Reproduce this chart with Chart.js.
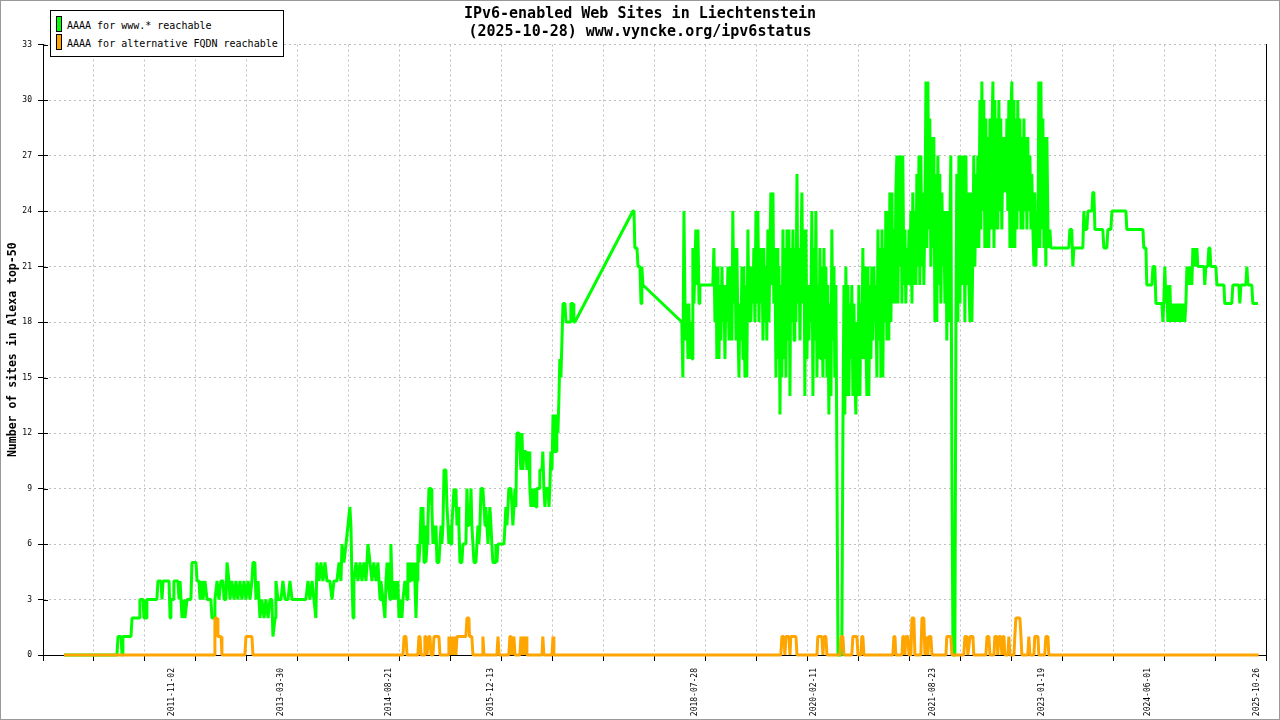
<!DOCTYPE html>
<html>
<head>
<meta charset="utf-8">
<title>IPv6-enabled Web Sites in Liechtenstein</title>
<script src="https://cdn.jsdelivr.net/npm/chart.js"></script>
<style>
    body { margin: 0; background: #fff; }
    #wrap { position: relative; width: 1280px; height: 720px; }
    #frame { position: absolute; left: 0; top: 0; width: 1280px; height: 720px; box-sizing: border-box; border: 1px solid #999; pointer-events: none; }
    #legend { position: absolute; left: 50px; top: 10px; width: 234px; height: 47px; box-sizing: border-box; border: 1px solid #000; background: #fff; font: 10px "DejaVu Sans Mono", monospace; color: #000; }
    .swatch { position: absolute; left: 5px; width: 4px; height: 14px; border: 1px solid #000; }
    .item { position: absolute; left: 16px; line-height: 16px; white-space: nowrap; }
</style>
</head>
<body>
<div id="wrap">
    <canvas id="ipv6-chart" width="1280" height="720"></canvas>
    <div id="legend"></div>
    <div id="frame"></div>
</div>
<script>
const MONO = '"DejaVu Sans Mono", "Liberation Mono", monospace';

// x values are days counted from the first day of the axis
const dayZero = Date.UTC(2010, 2, 6);
const axisDays = 5755;

const tickDates = ["2011-11-02", "2013-03-30", "2014-08-21", "2015-12-13", "2018-07-28",
    "2020-02-11", "2021-08-23", "2023-01-19", "2024-06-01", "2025-10-26"];
const siteTicks = [0, 3, 6, 9, 12, 15, 18, 21, 24, 27, 30, 33];

const seriesNames = ["AAAA for www.* reachable", "AAAA for alternative FQDN reachable"];
const seriesColors = ["#00ff00", "#ffa500"];

// [day, sites]
const wwwReachable = [
    [99,0],[348,0],[353,1],[367,1],[372,0],[376,1],[414,1],[419,2],[452,2],[456,3],[471,3],[475,2],[485,2],[489,3],
    [536,3],[541,4],[555,4],[560,3],[565,4],[593,4],[598,2],[602,3],[612,3],[616,4],[635,4],[640,3],[645,4],[654,2],
    [663,3],[668,2],[678,3],[696,3],[701,5],[720,5],[725,4],[734,4],[739,3],[748,4],[753,3],[762,4],[772,3],[790,3],
    [795,2],[805,2],[809,3],[819,4],[828,3],[837,4],[847,4],[852,3],[861,3],[866,5],[875,4],[880,3],[889,4],[899,3],
    [908,4],[917,3],[927,4],[936,3],[946,4],[955,3],[965,4],[974,3],[983,4],[988,5],[997,5],[1002,3],[1012,4],[1021,2],
    [1030,3],[1040,2],[1049,3],[1059,2],[1068,3],[1077,3],[1082,1],[1092,2],[1096,4],[1106,3],[1120,3],[1129,4],[1139,3],
    [1153,3],[1162,4],[1172,3],[1237,3],[1247,4],[1256,3],[1266,4],[1275,3],[1284,2],[1289,5],[1299,4],[1308,5],[1317,4],
    [1327,5],[1336,4],[1350,4],[1360,3],[1369,4],[1383,4],[1393,5],[1402,4],[1407,6],[1416,5],[1426,6],[1435,7],[1444,8],
    [1449,7],[1454,4],[1459,2],[1463,4],[1473,5],[1482,4],[1492,5],[1501,4],[1510,5],[1520,4],[1529,6],[1539,5],[1548,4],
    [1557,5],[1567,4],[1576,5],
    [1586,3],[1590,4],[1600,3],[1609,2],[1614,4],[1619,5],[1623,4],[1633,3],[1637,6],[1642,4],[1647,3],[1656,4],[1661,3],
    [1670,4],[1675,2],[1684,3],[1689,2],[1694,3],[1703,4],[1713,3],[1717,5],[1727,4],[1731,5],[1741,4],[1746,5],[1750,4],
    [1755,2],[1760,4],[1764,6],[1769,5],[1774,6],[1779,8],[1783,6],[1788,8],[1793,5],[1797,7],[1802,5],[1807,6],[1811,7],
    [1816,9],[1826,9],[1830,8],[1835,6],[1840,7],[1844,6],[1849,7],[1854,5],[1863,5],[1868,6],[1873,7],[1877,6],[1882,7],
    [1887,10],[1896,10],[1901,8],[1906,7],[1910,6],[1915,7],[1920,6],[1924,7],[1934,9],[1938,8],[1943,9],[1948,7],[1953,8],
    [1957,7],[1962,5],[1971,5],[1976,6],[1990,6],[1995,9],[2000,7],[2004,8],[2009,7],[2014,9],[2018,7],[2023,6],[2028,5],
    [2037,5],[2042,6],[2047,7],[2051,6],[2056,7],[2061,9],[2070,9],[2075,8],[2080,7],[2084,8],[2089,7],[2094,6],[2098,7],
    [2103,8],[2108,7],[2112,6],[2117,5],[2127,5],[2131,6],[2136,5],[2141,6],[2169,6],[2174,7],[2178,8],[2183,7],[2188,8],
    [2192,9],[2202,9],[2207,8],[2211,7],[2216,8],[2221,9],[2225,8],[2230,12],[2240,12],[2244,11],[2249,10],[2254,12],
    [2258,10],[2263,11],[2273,11],[2277,10],[2287,11],[2291,9],[2296,8],[2301,9],[2305,8],[2310,9],[2320,8],[2324,9],
    [2334,9],[2338,10],[2348,10],[2352,11],[2357,9],[2362,8],[2367,9],[2376,9],[2381,8],[2385,9],[2390,11],[2395,10],
    [2400,13],[2404,11],[2414,11],[2418,13],[2423,12],[2428,14],[2432,16],[2437,15],[2442,17],[2447,19],[2456,19],
    [2461,18],[2480,18],[2484,19],[2494,19],[2498,18],[2503,18],
    [2776,24],[2781,24],[2785,22],[2795,22],[2800,21],[2809,21],[2814,19],[2818,21],[2823,20],[3006,18],
    [3011,15],[3016,24],[3021,19],[3025,17],[3030,19],[3035,16],[3039,19],[3044,16],[3049,18],[3054,16],[3058,22],
    [3063,19],[3068,21],[3072,23],[3077,20],[3082,23],[3087,19],[3091,20],[3152,20],[3157,22],[3162,18],[3167,21],
    [3171,16],[3176,21],[3181,16],[3185,20],[3190,17],[3195,21],[3199,18],[3204,20],[3209,16],[3214,20],[3218,18],
    [3223,21],[3228,17],[3232,21],[3237,19],[3242,17],[3246,24],[3251,19],[3256,22],[3261,17],[3265,22],[3270,18],
    [3275,15],[3279,19],[3284,17],[3289,21],[3294,16],[3298,21],[3303,15],[3308,20],[3312,15],[3317,23],[3322,18],
    [3326,21],[3331,18],[3336,21],[3341,19],[3345,22],[3350,18],[3355,24],[3359,19],[3364,24],[3369,18],[3374,22],
    [3378,19],[3383,22],[3388,17],[3392,22],[3397,18],[3402,21],[3406,17],[3411,23],[3416,18],[3421,22],[3425,25],
    [3430,20],[3435,25],[3439,19],[3444,22],[3449,15],[3454,22],[3458,16],[3463,21],[3468,13],[3472,20],[3477,15],
    [3482,23],[3486,16],[3491,22],[3496,15],[3501,23],[3505,17],[3510,23],[3515,14],[3519,22],[3524,18],[3529,23],
    [3534,17],[3538,22],[3543,18],[3548,26],[3552,19],[3557,22],[3562,17],[3566,21],[3571,25],[3576,19],[3581,23],
    [3585,14],[3590,23],[3595,16],[3599,20],[3604,17],[3609,20],[3613,18],[3618,24],[3623,14],[3628,22],[3632,17],
    [3637,24],[3642,15],[3646,20],[3651,16],[3656,22],[3661,16],[3665,21],[3670,15],[3675,22],[3679,16],[3684,21],
    [3689,15],[3693,20],[3698,13],[3703,19],[3708,14],[3712,23],[3717,17],[3722,21],[3726,15],[3731,20],[3736,10],
    [3741,0],[3759,0],[3764,12],[3769,20],[3773,13],[3778,21],[3783,14],[3788,20],[3792,14],[3797,19],[3802,16],
    [3806,20],[3811,14],[3816,19],[3821,15],[3825,13],[3830,18],[3835,14],[3839,20],[3844,14],[3849,19],[3853,16],
    [3858,22],[3863,16],[3868,21],[3872,17],[3877,14],[3882,21],[3886,14],[3891,20],[3896,16],[3900,21],[3905,17],
    [3910,21],[3915,18],[3919,20],[3924,15],[3929,23],[3933,17],[3938,22],[3943,15],[3948,23],[3952,15],[3957,22],
    [3962,18],[3966,24],[3971,17],[3976,24],[3980,17],[3985,25],[3990,18],[3995,25],[3999,19],[4004,23],[4009,19],
    [4013,25],[4018,27],[4023,19],[4028,27],[4032,21],[4037,27],[4042,19],[4046,27],[4051,20],[4056,23],[4060,19],
    [4065,22],[4070,20],[4075,23],[4079,20],[4084,24],[4089,19],[4093,25],[4098,20],[4103,24],[4108,20],[4112,26],
    [4117,21],[4122,27],[4126,20],[4131,27],[4136,21],[4140,25],[4145,20],[4150,24],[4155,31],[4159,22],[4164,31],
    [4169,23],[4173,29],[4178,21],[4183,28],[4188,22],[4192,28],[4197,18],[4202,26],[4206,18],[4211,27],[4216,20],
    [4220,26],[4225,19],[4230,25],[4235,21],[4239,24],[4244,19],[4249,24],[4253,17],[4258,24],[4263,18],[4267,23],
    [4272,27],[4277,10],[4282,0],[4291,0],[4296,18],[4300,26],[4305,18],[4310,27],[4315,19],[4319,27],[4324,20],
    [4329,24],[4333,27],[4338,18],[4343,27],[4347,20],[4352,25],[4357,20],[4362,18],[4366,25],[4371,18],[4376,22],
    [4380,27],[4385,21],[4390,26],[4395,22],[4399,27],[4404,22],[4409,30],[4413,23],[4418,31],[4423,24],[4427,30],
    [4432,22],[4437,29],[4442,22],[4446,28],[4451,22],[4456,29],[4460,23],[4465,28],[4470,31],[4475,22],[4479,30],
    [4484,23],[4489,29],[4493,23],[4498,30],[4503,24],[4507,29],[4512,23],[4517,28],[4522,25],[4526,28],[4531,25],
    [4536,29],[4540,24],[4545,30],[4550,22],[4554,29],[4559,31],[4564,22],[4569,30],[4573,22],[4578,29],[4583,23],
    [4587,30],[4592,24],[4597,29],[4602,23],[4606,28],[4611,23],[4616,29],[4620,24],[4625,28],[4630,23],[4634,28],
    [4639,24],[4644,27],[4649,23],[4653,26],[4658,23],[4663,21],[4667,25],[4672,21],[4677,24],[4682,22],[4686,31],
    [4691,22],[4696,31],[4700,23],[4705,29],[4710,22],[4714,28],[4719,21],[4724,28],[4729,23],[4733,22],[4738,23],
    [4743,22],
    [4827,22],[4832,23],[4841,23],[4846,21],[4851,22],[4893,22],[4898,24],[4903,23],[4912,23],[4917,24],[4936,24],
    [4940,25],[4945,25],[4950,23],[4987,23],[4992,22],[5006,22],[5011,23],[5025,23],[5030,24],[5096,24],[5100,23],
    [5176,23],[5180,22],[5190,22],[5194,20],[5218,20],[5223,21],[5232,21],[5237,19],[5265,19],[5270,18],[5274,19],
    [5279,21],[5284,19],[5288,20],[5293,18],[5298,19],[5303,20],[5307,18],[5312,19],[5317,18],[5321,19],[5326,18],
    [5331,19],[5336,18],[5340,19],[5345,18],[5350,19],[5354,18],[5359,19],[5364,18],[5368,19],[5373,18],[5378,19],
    [5383,21],[5387,20],[5392,21],[5397,20],[5401,21],[5406,20],[5411,22],[5415,21],[5420,22],[5425,21],[5430,22],
    [5434,21],[5463,21],[5467,20],[5472,21],[5481,21],[5486,22],[5491,22],[5495,21],[5519,21],[5524,20],[5557,20],
    [5561,19],[5594,19],[5599,20],[5627,20],[5632,19],[5637,20],[5660,20],[5665,21],[5670,20],[5688,20],[5693,19],
    [5717,19]
];

const altReachable = [
    [99,0],[805,0],[809,2],[819,2],[823,1],[838,1],[842,0],[950,0],[955,1],[983,1],[988,0],
    [1694,0],[1699,1],[1708,1],[1713,0],[1764,0],[1769,1],[1774,1],[1779,0],[1793,0],[1797,1],[1802,1],[1807,0],
    [1811,0],[1816,1],[1821,1],[1826,0],[1835,0],[1840,1],[1863,1],[1868,0],[1906,0],[1910,1],[1915,0],[1920,1],
    [1924,0],[1929,1],[1934,0],[1938,1],[1943,0],[1948,1],[1990,1],[1995,2],[2004,2],[2007,1],[2018,1],[2023,0],
    [2066,0],[2070,1],[2075,0],[2136,0],[2141,1],[2146,0],[2192,0],[2197,1],[2202,1],[2207,0],[2211,0],[2216,1],
    [2221,0],[2244,0],[2249,1],[2254,0],[2263,1],[2268,0],[2273,1],[2277,0],[2348,0],[2352,1],[2357,0],[2395,0],
    [2400,1],[2404,0],
    [3472,0],[3477,1],[3486,1],[3491,0],[3496,1],[3510,1],[3515,0],[3519,1],[3543,1],[3548,0],
    [3642,0],[3646,1],[3665,1],[3670,0],[3675,1],[3684,1],[3689,0],[3750,0],[3755,1],[3764,1],[3769,0],
    [3806,0],[3811,1],[3830,1],[3835,0],[3849,0],[3853,1],[3858,1],[3863,0],[3999,0],[4004,1],[4009,1],[4013,0],
    [4042,0],[4046,1],[4051,1],[4056,0],[4060,1],[4070,1],[4075,0],[4084,0],[4089,2],[4098,2],[4103,0],
    [4131,0],[4136,2],[4145,2],[4150,0],[4155,1],[4164,0],[4169,1],[4178,1],[4183,0],[4249,0],[4253,1],[4272,1],
    [4277,0],[4333,0],[4338,1],[4347,1],[4352,0],[4362,1],[4376,1],[4380,0],
    [4437,0],[4442,1],[4451,1],[4456,0],[4475,0],[4479,1],[4489,1],[4493,0],[4498,1],[4507,1],[4512,0],[4517,1],
    [4522,1],[4526,0],[4540,0],[4545,1],[4550,0],[4569,0],[4573,1],[4578,2],[4597,2],[4602,1],[4606,0],[4634,0],
    [4639,1],[4644,0],[4663,0],[4667,1],[4682,1],[4686,0],[4714,0],[4719,1],[4729,1],[4733,0],[5720,0]
];

function toDay(iso) {
    const [y, m, d] = iso.split("-").map(Number);
    return Math.round((Date.UTC(y, m - 1, d) - dayZero) / 86400000);
}

const labelDays = tickDates.map(toDay);
// dashed grid every 1/24 of the axis, date labels sit between them
const gridDays = [];
for (let k = 0; k <= 24; k++) {
    gridDays.push(k * axisDays / 24);
}

function isLabel(value) {
    return labelDays.includes(value);
}

function buildLegend() {
    const $legend = document.querySelector("#legend");
    const tops = [[5, 7], [23, 24.5]];
    seriesNames.forEach((name, i) => {
        const swatch = document.createElement("div");
        swatch.classList.add("swatch");
        swatch.style.top = tops[i][0] + "px";
        swatch.style.background = seriesColors[i];
        const text = document.createElement("div");
        text.classList.add("item");
        text.style.top = tops[i][1] + "px";
        text.textContent = name;
        $legend.appendChild(swatch);
        $legend.appendChild(text);
    });
}

// short tick marks reaching into the plot on the left axis
const innerTicks = {
    id: "innerTicks",
    beforeDatasetsDraw(chart) {
        const {ctx, scales: {y}} = chart;
        ctx.save();
        ctx.strokeStyle = "#000";
        ctx.lineWidth = 1;
        ctx.beginPath();
        siteTicks.forEach(v => {
            const py = Math.round(y.getPixelForValue(v)) + 0.5;
            ctx.moveTo(y.right, py);
            ctx.lineTo(y.right + 5, py);
        });
        ctx.stroke();
        ctx.restore();
    }
};

function drawChart() {
    const canvas = document.querySelector("#ipv6-chart");
    const gridColor = "#bfbfbf";

    new Chart(canvas, {
        type: "line",
        data: {
            datasets: [{
                label: seriesNames[0],
                data: wwwReachable.map(([x, y]) => ({x, y})),
                borderColor: seriesColors[0],
                borderWidth: 3,
                borderJoinStyle: "bevel",
                pointRadius: 0,
                clip: 6,
                order: 2
            }, {
                label: seriesNames[1],
                data: altReachable.map(([x, y]) => ({x, y})),
                borderColor: seriesColors[1],
                borderWidth: 3,
                borderJoinStyle: "bevel",
                pointRadius: 0,
                clip: 6,
                order: 1
            }]
        },
        options: {
            responsive: false,
            animation: false,
            parsing: false,
            layout: {padding: 0},
            plugins: {
                legend: {display: false},
                tooltip: {enabled: false},
                title: {
                    display: true,
                    text: ["IPv6-enabled Web Sites in Liechtenstein", "(2025-10-28) www.vyncke.org/ipv6status"],
                    color: "#000",
                    font: {family: MONO, size: 15, weight: "bold", lineHeight: "18px"},
                    padding: {top: 5, bottom: 3.5}
                }
            },
            scales: {
                x: {
                    type: "linear",
                    min: 0,
                    max: axisDays,
                    afterBuildTicks: scale => {
                        scale.ticks = gridDays.concat(labelDays)
                            .sort((a, b) => a - b)
                            .map(value => ({value}));
                    },
                    afterFit: scale => {
                        scale.height = 65;
                        scale.paddingLeft = 0;
                        scale.paddingRight = 0;
                    },
                    ticks: {
                        autoSkip: false,
                        minRotation: 90,
                        maxRotation: 90,
                        padding: 7,
                        color: "#000",
                        font: {family: MONO, size: 8},
                        callback: value => isLabel(value) ? tickDates[labelDays.indexOf(value)] : ""
                    },
                    grid: {
                        color: ctx => isLabel(ctx.tick?.value) ? "rgba(0,0,0,0)" : gridColor,
                        tickColor: ctx => isLabel(ctx.tick?.value) ? "rgba(0,0,0,0)" : "#000",
                        tickLength: 6
                    },
                    border: {display: true, color: "#000", dash: [2, 3]}
                },
                y: {
                    min: 0,
                    max: 33,
                    afterBuildTicks: scale => {
                        scale.ticks = siteTicks.map(value => ({value}));
                    },
                    afterFit: scale => { scale.width = 43; },
                    ticks: {
                        padding: 6,
                        color: "#000",
                        font: {family: MONO, size: 8}
                    },
                    grid: {color: gridColor, tickColor: "#000", tickLength: 5},
                    border: {display: true, color: "#000", dash: [2, 3]},
                    title: {
                        display: true,
                        text: "Number of sites in Alexa top-50",
                        color: "#000",
                        font: {family: MONO, size: 11.5, weight: "bold"},
                        padding: {top: 6, bottom: 0}
                    }
                },
                yRight: {
                    position: "right",
                    min: 0,
                    max: 33,
                    afterFit: scale => { scale.width = 14; },
                    ticks: {display: false},
                    grid: {display: false},
                    border: {display: true, color: "#000"}
                }
            }
        },
        plugins: [innerTicks]
    });
}

buildLegend();
drawChart();
</script>
</body>
</html>
